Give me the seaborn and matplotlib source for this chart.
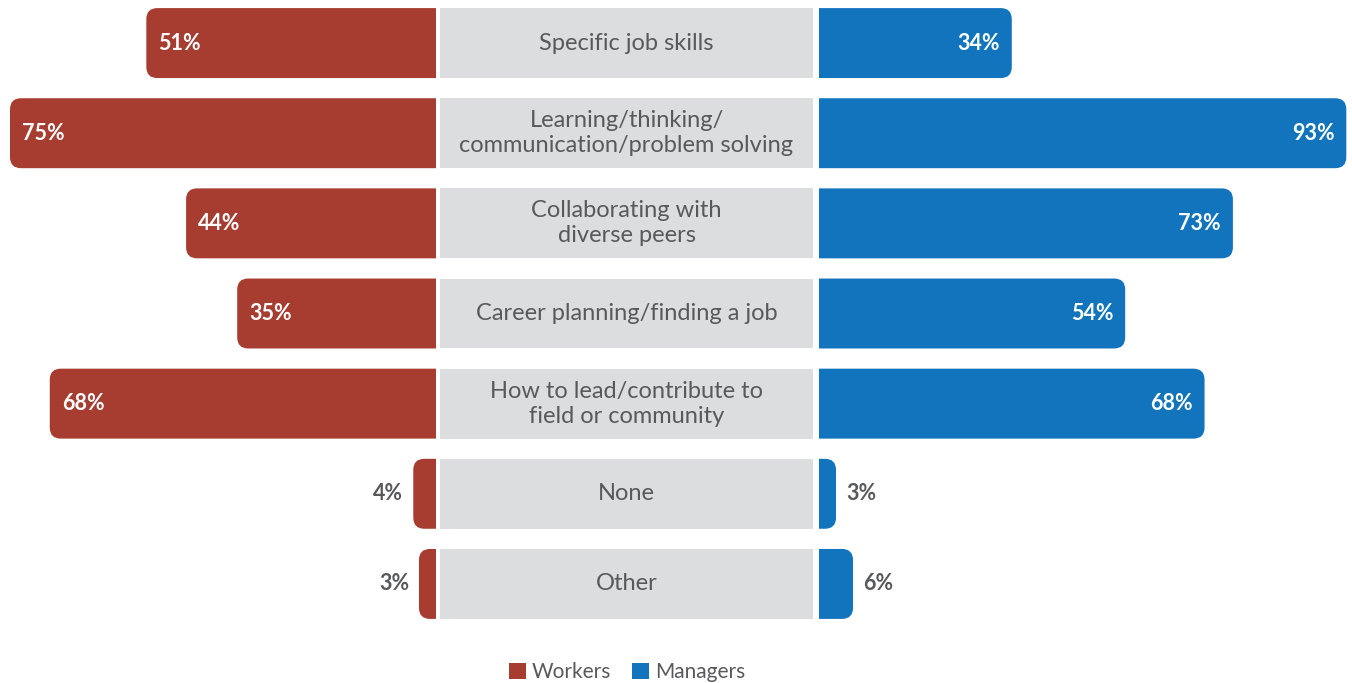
import matplotlib
matplotlib.use("Agg")
import matplotlib.pyplot as plt
import seaborn as sns
import pandas as pd
from matplotlib.patches import FancyBboxPatch, Patch

# Skills areas and the share of each group naming them
categories = [
    "Specific job skills",
    "Learning/thinking/\ncommunication/problem solving",
    "Collaborating with\ndiverse peers",
    "Career planning/finding a job",
    "How to lead/contribute to\nfield or community",
    "None",
    "Other",
]
workers = [51, 75, 44, 35, 68, 4, 3]
managers = [34, 93, 73, 54, 68, 3, 6]
series_names = ["Workers", "Managers"]

RED = "#A63D30"
BLUE = "#1174BC"
BOX = "#DCDDDF"
TEXT = "#58595B"

sns.set_theme(style="white")
plt.rcParams["font.family"] = ["Lato", "DejaVu Sans"]

W, H = 1352, 683
fig = plt.figure(figsize=(W / 100, H / 100), dpi=100)

# panel geometry in pixels: left bars | label boxes | right bars
top_px, bot_px = -2, 629
bottom = 1 - bot_px / H
height = (bot_px - top_px) / H
ax_l = fig.add_axes([0, bottom, 436 / W, height])
ax_c = fig.add_axes([440 / W, bottom, 373 / W, height])
ax_r = fig.add_axes([819 / W, bottom, 533 / W, height])

df = pd.DataFrame({"category": categories, "Workers": workers, "Managers": managers})
n = len(categories)
BAR_W = 0.776

sns.barplot(data=df, x="Workers", y="category", orient="h", color=RED,
            width=BAR_W, saturation=1, ax=ax_l)
sns.barplot(data=df, x="Managers", y="category", orient="h", color=BLUE,
            width=BAR_W, saturation=1, ax=ax_r)

ax_l.set_xlim(436 / 5.68, 0)
ax_r.set_xlim(0, 533 / 5.67)

# label boxes spanning the middle panel
ax_c.barh(range(n), [1] * n, height=BAR_W, left=0, color=BOX, lw=0)
ax_c.set_xlim(0, 1)
for i, cat in enumerate(categories):
    ax_c.text(0.5, i, cat, ha="center", va="center", fontsize=17,
              color=TEXT, linespacing=1.22)

for ax in (ax_l, ax_c, ax_r):
    ax.set_ylim(n - 0.5, -0.5)
    ax.axis("off")


def px_per_unit(ax):
    bb = ax.get_window_extent()
    x0, x1 = ax.get_xlim()
    y0, y1 = ax.get_ylim()
    return bb.width / abs(x1 - x0), bb.height / abs(y1 - y0)


def round_outer_ends(ax, color, radius_px=11):
    sx, sy = px_per_unit(ax)
    r = radius_px / sx
    aspect = sx / sy
    for p in list(ax.patches):
        x, y, w, h = p.get_x(), p.get_y(), p.get_width(), p.get_height()
        p.remove()
        # extend past the inner edge so only the outer corners stay rounded
        ext = 2.5 * r
        fb = FancyBboxPatch((x - ext, y), w + ext, h,
                            boxstyle=f"round,pad=0,rounding_size={r}",
                            mutation_aspect=aspect, fc=color, ec="none", lw=0)
        ax.add_patch(fb)


def label_bars(ax, values, side):
    sx, _ = px_per_unit(ax)
    for i, v in enumerate(values):
        s = f"{v}%"
        if v >= 10:
            pad = 12 / sx
            ax.text(v - pad, i, s, ha="left" if side == "left" else "right",
                    va="center", color="white", fontsize=15.5, fontweight="bold")
        else:
            pad = 10 / sx
            ax.text(v + pad, i, s, ha="right" if side == "left" else "left",
                    va="center", color=TEXT, fontsize=15.5, fontweight="bold")


fig.canvas.draw()
round_outer_ends(ax_l, RED)
round_outer_ends(ax_r, BLUE)
label_bars(ax_l, workers, "left")
label_bars(ax_r, managers, "right")

handles = [Patch(fc=RED, ec="none"), Patch(fc=BLUE, ec="none")]
fig.legend(handles, series_names, loc="center", bbox_to_anchor=(627 / W, 1 - 672 / H),
           ncol=2, frameon=False, fontsize=15, handlelength=0.8, handleheight=0.8,
           handletextpad=0.3, columnspacing=1.0, labelcolor=TEXT, borderpad=0)

fig.savefig("out.png", dpi=100)
